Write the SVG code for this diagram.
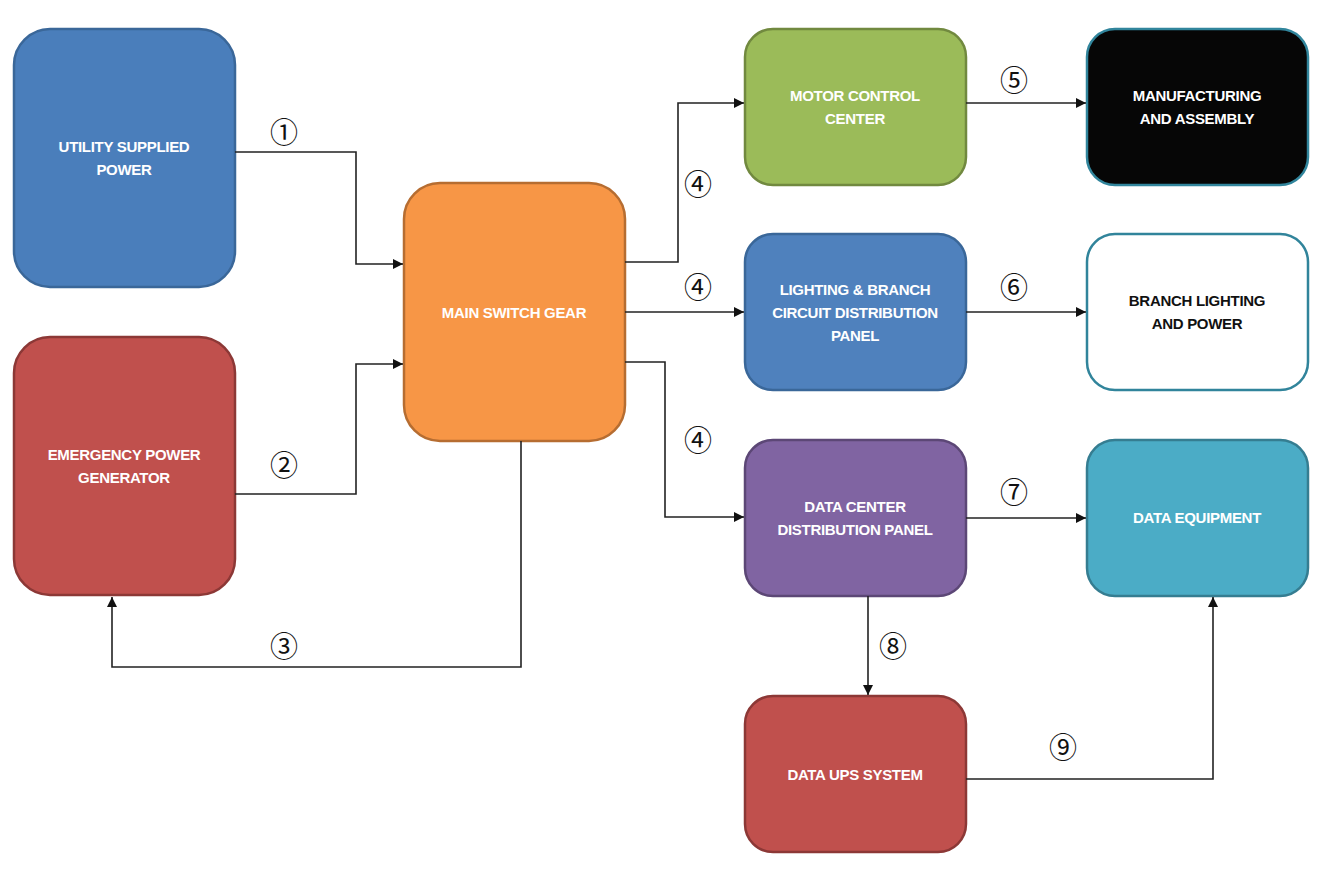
<svg xmlns="http://www.w3.org/2000/svg" width="1334" height="878" viewBox="0 0 1334 878">
<defs>
<marker id="arr" viewBox="0 0 10 10" refX="10" refY="5" markerWidth="10" markerHeight="10" markerUnits="userSpaceOnUse" orient="auto">
<path d="M0,0 L10,5 L0,10 Z" fill="#111"/>
</marker>
<style>
.box{stroke-width:2.5}
.t{font-family:"Liberation Sans",Arial,sans-serif;font-weight:bold;font-size:15px;letter-spacing:-0.3px;text-anchor:middle;fill:#fff}
.dk{fill:#111}
.c{fill:none;stroke:#222;stroke-width:1.6;marker-end:url(#arr)}
.n{font-family:"Noto Sans CJK SC","DejaVu Sans",sans-serif;font-size:28px;text-anchor:middle;fill:#111}
</style>
</defs>
<rect width="1334" height="878" fill="#fff"/>
<g id="utility"><rect class="box" x="14" y="29" width="221" height="258" rx="36" fill="#4a7ebb" stroke="#3a6799"/>
<text class="t" x="124" y="152">UTILITY SUPPLIED</text><text class="t" x="124" y="175">POWER</text></g>
<g id="emergency"><rect class="box" x="14" y="337" width="221" height="258" rx="36" fill="#c0504d" stroke="#8c3836"/>
<text class="t" x="124" y="460">EMERGENCY POWER</text><text class="t" x="124" y="483">GENERATOR</text></g>
<g id="main"><rect class="box" x="404" y="183" width="221" height="258" rx="36" fill="#f79646" stroke="#b66d31"/>
<text class="t" x="514" y="318">MAIN SWITCH GEAR</text></g>
<g id="motor"><rect class="box" x="745" y="29" width="221" height="156" rx="28" fill="#9bbb59" stroke="#71893f"/>
<text class="t" x="855" y="101">MOTOR CONTROL</text><text class="t" x="855" y="124">CENTER</text></g>
<g id="manuf"><rect class="box" x="1087" y="29" width="221" height="156" rx="28" fill="#060606" stroke="#31859c"/>
<text class="t" x="1197" y="101">MANUFACTURING</text><text class="t" x="1197" y="124">AND ASSEMBLY</text></g>
<g id="lighting"><rect class="box" x="745" y="234" width="221" height="156" rx="28" fill="#4f81bd" stroke="#3a6799"/>
<text class="t" x="855" y="295">LIGHTING &amp; BRANCH</text><text class="t" x="855" y="318">CIRCUIT DISTRIBUTION</text><text class="t" x="855" y="341">PANEL</text></g>
<g id="branch"><rect class="box" x="1087" y="234" width="221" height="156" rx="28" fill="#fff" stroke="#31849b"/>
<text class="t dk" x="1197" y="306">BRANCH LIGHTING</text><text class="t dk" x="1197" y="329">AND POWER</text></g>
<g id="dcdp"><rect class="box" x="745" y="440" width="221" height="156" rx="28" fill="#8064a2" stroke="#5c4776"/>
<text class="t" x="855" y="512">DATA CENTER</text><text class="t" x="855" y="535">DISTRIBUTION PANEL</text></g>
<g id="dataeq"><rect class="box" x="1087" y="440" width="221" height="156" rx="28" fill="#4bacc6" stroke="#357d91"/>
<text class="t" x="1197" y="523">DATA EQUIPMENT</text></g>
<g id="ups"><rect class="box" x="745" y="696" width="221" height="156" rx="28" fill="#c0504d" stroke="#8c3836"/>
<text class="t" x="855" y="780">DATA UPS SYSTEM</text></g>
<g id="connectors">
<path class="c" d="M235,152 H356 V264 H403"/>
<path class="c" d="M235,494 H356 V364 H403"/>
<path class="c" d="M521,441 V667 H112 V597"/>
<path class="c" d="M625,262 H678 V103 H744"/>
<path class="c" d="M625,312 H744"/>
<path class="c" d="M625,362 H665 V517 H744"/>
<path class="c" d="M966,103 H1086"/>
<path class="c" d="M966,312 H1086"/>
<path class="c" d="M966,518 H1086"/>
<path class="c" d="M868,596 V695"/>
<path class="c" d="M966,779 H1213 V597"/>
<text class="n" x="284" y="143">①</text>
<text class="n" x="284" y="476">②</text>
<text class="n" x="284" y="657">③</text>
<text class="n" x="698" y="195">④</text>
<text class="n" x="698" y="298">④</text>
<text class="n" x="698" y="451">④</text>
<text class="n" x="1014" y="91">⑤</text>
<text class="n" x="1014" y="298">⑥</text>
<text class="n" x="1014" y="503">⑦</text>
<text class="n" x="893" y="657">⑧</text>
<text class="n" x="1063" y="758">⑨</text>
</g>
</svg>
